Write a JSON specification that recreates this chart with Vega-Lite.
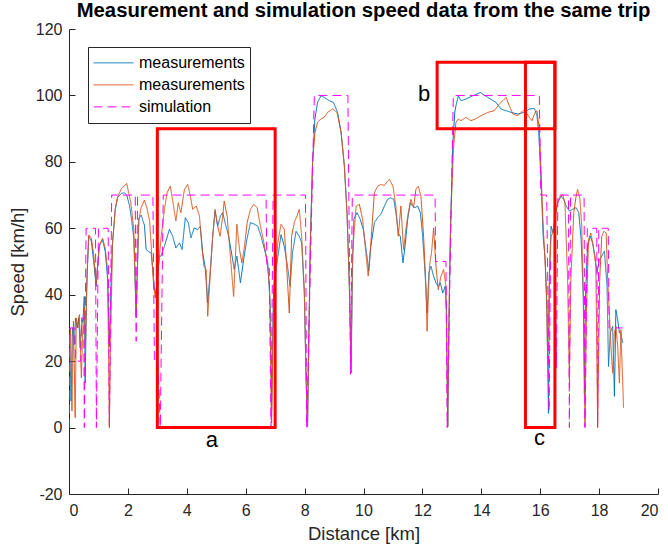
{
  "$schema": "https://vega.github.io/schema/vega-lite/v6.json",
  "width": 589,
  "height": 465,
  "autosize": "none",
  "padding": {"left": 69, "top": 29, "right": 10, "bottom": 59},
  "background": "white",
  "title": {"text": "Measurement and simulation speed data from the same trip", "font": "Liberation Sans", "fontSize": 20.3, "fontWeight": "bold", "color": "black", "offset": 0, "anchor": "middle"},
  "datasets": {
    "lines": [
      {"s":"m1","d":0.02,"v":28},{"s":"m1","d":0.07,"v":8},{"s":"m1","d":0.12,"v":30},{"s":"m1","d":0.18,"v":25},{"s":"m1","d":0.22,"v":33},{"s":"m1","d":0.28,"v":30},{"s":"m1","d":0.33,"v":33},{"s":"m1","d":0.38,"v":24},{"s":"m1","d":0.43,"v":31},{"s":"m1","d":0.48,"v":33},{"s":"m1","d":0.52,"v":39.5},{"s":"m1","d":0.55,"v":13.5},{"s":"m1","d":0.6,"v":42},{"s":"m1","d":0.67,"v":57.6},{"s":"m1","d":0.76,"v":56},{"s":"m1","d":0.84,"v":50},{"s":"m1","d":0.92,"v":42.5},{"s":"m1","d":1.03,"v":54.6},{"s":"m1","d":1.14,"v":56.6},{"s":"m1","d":1.23,"v":53},{"s":"m1","d":1.31,"v":45},{"s":"m1","d":1.37,"v":24.4},{"s":"m1","d":1.43,"v":45},{"s":"m1","d":1.48,"v":55.7},{"s":"m1","d":1.57,"v":65.7},{"s":"m1","d":1.65,"v":69.3},{"s":"m1","d":1.78,"v":70.5},{"s":"m1","d":1.88,"v":70.7},{"s":"m1","d":1.96,"v":70},{"s":"m1","d":2.05,"v":67},{"s":"m1","d":2.12,"v":63},{"s":"m1","d":2.2,"v":57},{"s":"m1","d":2.28,"v":33},{"s":"m1","d":2.33,"v":50},{"s":"m1","d":2.37,"v":63},{"s":"m1","d":2.45,"v":64},{"s":"m1","d":2.52,"v":62},{"s":"m1","d":2.56,"v":61},{"s":"m1","d":2.62,"v":53.6},{"s":"m1","d":2.7,"v":53},{"s":"m1","d":2.79,"v":52.6},{"s":"m1","d":2.85,"v":47},{"s":"m1","d":2.9,"v":42},{"s":"m1","d":2.95,"v":40},{"s":"m1","d":3.0,"v":45},{"s":"m1","d":3.07,"v":51.6},{"s":"m1","d":3.12,"v":51.6},{"s":"m1","d":3.24,"v":54.6},{"s":"m1","d":3.41,"v":59.7},{"s":"m1","d":3.52,"v":57.6},{"s":"m1","d":3.63,"v":54.1},{"s":"m1","d":3.75,"v":55.6},{"s":"m1","d":3.84,"v":53.6},{"s":"m1","d":3.95,"v":63.2},{"s":"m1","d":4.05,"v":61.7},{"s":"m1","d":4.14,"v":57.1},{"s":"m1","d":4.25,"v":60.1},{"s":"m1","d":4.37,"v":59.6},{"s":"m1","d":4.46,"v":60.6},{"s":"m1","d":4.54,"v":52.6},{"s":"m1","d":4.62,"v":48.6},{"s":"m1","d":4.71,"v":37.5},{"s":"m1","d":4.8,"v":47.6},{"s":"m1","d":4.88,"v":57.6},{"s":"m1","d":4.96,"v":65.2},{"s":"m1","d":5.05,"v":60.6},{"s":"m1","d":5.14,"v":63.7},{"s":"m1","d":5.22,"v":64.7},{"s":"m1","d":5.3,"v":61.7},{"s":"m1","d":5.42,"v":57.6},{"s":"m1","d":5.5,"v":53.6},{"s":"m1","d":5.61,"v":47.6},{"s":"m1","d":5.7,"v":51.6},{"s":"m1","d":5.82,"v":43.6},{"s":"m1","d":5.93,"v":50.6},{"s":"m1","d":6.04,"v":56.6},{"s":"m1","d":6.16,"v":61.7},{"s":"m1","d":6.3,"v":61.2},{"s":"m1","d":6.41,"v":60.6},{"s":"m1","d":6.52,"v":57.6},{"s":"m1","d":6.64,"v":53.6},{"s":"m1","d":6.75,"v":49.6},{"s":"m1","d":6.84,"v":35.5},{"s":"m1","d":6.88,"v":5},{"s":"m1","d":6.92,"v":30},{"s":"m1","d":6.95,"v":42.5},{"s":"m1","d":7.03,"v":47.6},{"s":"m1","d":7.2,"v":58.1},{"s":"m1","d":7.31,"v":54.6},{"s":"m1","d":7.42,"v":48.6},{"s":"m1","d":7.51,"v":42.5},{"s":"m1","d":7.59,"v":52.6},{"s":"m1","d":7.71,"v":59.1},{"s":"m1","d":7.82,"v":57.6},{"s":"m1","d":7.9,"v":55.6},{"s":"m1","d":7.99,"v":40.5},{"s":"m1","d":8.05,"v":15},{"s":"m1","d":8.1,"v":0.3},{"s":"m1","d":8.15,"v":30},{"s":"m1","d":8.19,"v":54.6},{"s":"m1","d":8.27,"v":79.8},{"s":"m1","d":8.35,"v":92.9},{"s":"m1","d":8.44,"v":97.9},{"s":"m1","d":8.56,"v":99.9},{"s":"m1","d":8.67,"v":99.4},{"s":"m1","d":8.84,"v":98.4},{"s":"m1","d":8.98,"v":97.9},{"s":"m1","d":9.12,"v":94.9},{"s":"m1","d":9.24,"v":88.8},{"s":"m1","d":9.35,"v":78.8},{"s":"m1","d":9.44,"v":64.7},{"s":"m1","d":9.52,"v":42.5},{"s":"m1","d":9.58,"v":16.4},{"s":"m1","d":9.62,"v":45},{"s":"m1","d":9.67,"v":62.7},{"s":"m1","d":9.78,"v":64.7},{"s":"m1","d":9.89,"v":62.7},{"s":"m1","d":9.99,"v":59.7},{"s":"m1","d":10.12,"v":51.6},{"s":"m1","d":10.18,"v":47.1},{"s":"m1","d":10.25,"v":54.6},{"s":"m1","d":10.37,"v":61.7},{"s":"m1","d":10.48,"v":63.2},{"s":"m1","d":10.59,"v":64.2},{"s":"m1","d":10.71,"v":66.7},{"s":"m1","d":10.82,"v":68.7},{"s":"m1","d":10.91,"v":69.2},{"s":"m1","d":11.03,"v":68.7},{"s":"m1","d":11.1,"v":64.7},{"s":"m1","d":11.18,"v":58.6},{"s":"m1","d":11.25,"v":57.6},{"s":"m1","d":11.34,"v":49.6},{"s":"m1","d":11.41,"v":54.6},{"s":"m1","d":11.5,"v":62.7},{"s":"m1","d":11.59,"v":67.7},{"s":"m1","d":11.67,"v":66.7},{"s":"m1","d":11.75,"v":66.2},{"s":"m1","d":11.84,"v":66.7},{"s":"m1","d":11.93,"v":64.7},{"s":"m1","d":12.0,"v":58.6},{"s":"m1","d":12.09,"v":46.6},{"s":"m1","d":12.16,"v":34.5},{"s":"m1","d":12.22,"v":46.6},{"s":"m1","d":12.29,"v":48.6},{"s":"m1","d":12.38,"v":45.6},{"s":"m1","d":12.46,"v":43.6},{"s":"m1","d":12.54,"v":42.5},{"s":"m1","d":12.61,"v":43.6},{"s":"m1","d":12.69,"v":40.5},{"s":"m1","d":12.77,"v":42.5},{"s":"m1","d":12.82,"v":35},{"s":"m1","d":12.86,"v":0.3},{"s":"m1","d":12.9,"v":30},{"s":"m1","d":12.95,"v":58.6},{"s":"m1","d":13.03,"v":84.8},{"s":"m1","d":13.1,"v":95},{"s":"m1","d":13.14,"v":96.9},{"s":"m1","d":13.22,"v":99.9},{"s":"m1","d":13.31,"v":98.4},{"s":"m1","d":13.48,"v":98.9},{"s":"m1","d":13.71,"v":99.9},{"s":"m1","d":13.97,"v":100.9},{"s":"m1","d":14.22,"v":99.4},{"s":"m1","d":14.5,"v":97.9},{"s":"m1","d":14.67,"v":95.9},{"s":"m1","d":15.01,"v":94.9},{"s":"m1","d":15.24,"v":94.4},{"s":"m1","d":15.46,"v":94.9},{"s":"m1","d":15.63,"v":95.9},{"s":"m1","d":15.8,"v":96.1},{"s":"m1","d":15.89,"v":93.9},{"s":"m1","d":15.95,"v":88.8},{"s":"m1","d":16.0,"v":79.8},{"s":"m1","d":16.05,"v":69.7},{"s":"m1","d":16.1,"v":57.6},{"s":"m1","d":16.17,"v":50.6},{"s":"m1","d":16.23,"v":34.5},{"s":"m1","d":16.28,"v":4.3},{"s":"m1","d":16.32,"v":48.6},{"s":"m1","d":16.37,"v":60.6},{"s":"m1","d":16.44,"v":58.6},{"s":"m1","d":16.5,"v":62.7},{"s":"m1","d":16.59,"v":67.7},{"s":"m1","d":16.71,"v":69.7},{"s":"m1","d":16.8,"v":68.7},{"s":"m1","d":16.88,"v":66.7},{"s":"m1","d":16.99,"v":65.2},{"s":"m1","d":17.1,"v":65.7},{"s":"m1","d":17.22,"v":66.2},{"s":"m1","d":17.31,"v":64.7},{"s":"m1","d":17.39,"v":56.6},{"s":"m1","d":17.46,"v":40},{"s":"m1","d":17.5,"v":10},{"s":"m1","d":17.54,"v":40.5},{"s":"m1","d":17.61,"v":54.6},{"s":"m1","d":17.7,"v":57.6},{"s":"m1","d":17.78,"v":55.6},{"s":"m1","d":17.86,"v":51.6},{"s":"m1","d":17.93,"v":46.6},{"s":"m1","d":18.01,"v":50.6},{"s":"m1","d":18.09,"v":51.6},{"s":"m1","d":18.18,"v":53.1},{"s":"m1","d":18.27,"v":42.5},{"s":"m1","d":18.32,"v":18.4},{"s":"m1","d":18.38,"v":28.5},{"s":"m1","d":18.46,"v":30.5},{"s":"m1","d":18.52,"v":9.4},{"s":"m1","d":18.57,"v":35.5},{"s":"m1","d":18.63,"v":32.5},{"s":"m1","d":18.69,"v":28.5},{"s":"m1","d":18.74,"v":28.5},{"s":"m1","d":18.8,"v":25.5},

      {"s":"m2","d":0.02,"v":25},{"s":"m2","d":0.05,"v":30},{"s":"m2","d":0.1,"v":5},{"s":"m2","d":0.15,"v":32},{"s":"m2","d":0.21,"v":3},{"s":"m2","d":0.25,"v":33},{"s":"m2","d":0.3,"v":30},{"s":"m2","d":0.35,"v":34},{"s":"m2","d":0.42,"v":15},{"s":"m2","d":0.47,"v":30},{"s":"m2","d":0.52,"v":36},{"s":"m2","d":0.56,"v":25},{"s":"m2","d":0.62,"v":48},{"s":"m2","d":0.67,"v":58},{"s":"m2","d":0.76,"v":57},{"s":"m2","d":0.84,"v":52},{"s":"m2","d":0.92,"v":43},{"s":"m2","d":1.03,"v":55},{"s":"m2","d":1.14,"v":57},{"s":"m2","d":1.23,"v":54},{"s":"m2","d":1.31,"v":47.6},{"s":"m2","d":1.37,"v":0.3},{"s":"m2","d":1.42,"v":30},{"s":"m2","d":1.48,"v":55.7},{"s":"m2","d":1.57,"v":65.7},{"s":"m2","d":1.65,"v":69.3},{"s":"m2","d":1.78,"v":72},{"s":"m2","d":1.96,"v":73.5},{"s":"m2","d":2.1,"v":67.7},{"s":"m2","d":2.2,"v":59.7},{"s":"m2","d":2.28,"v":34},{"s":"m2","d":2.33,"v":50},{"s":"m2","d":2.37,"v":62},{"s":"m2","d":2.44,"v":66},{"s":"m2","d":2.56,"v":68.5},{"s":"m2","d":2.65,"v":66},{"s":"m2","d":2.74,"v":62},{"s":"m2","d":2.86,"v":44.6},{"s":"m2","d":2.93,"v":39},{"s":"m2","d":3.0,"v":45},{"s":"m2","d":3.07,"v":51.6},{"s":"m2","d":3.12,"v":56.6},{"s":"m2","d":3.24,"v":65.7},{"s":"m2","d":3.33,"v":70.7},{"s":"m2","d":3.44,"v":72.7},{"s":"m2","d":3.55,"v":66.7},{"s":"m2","d":3.63,"v":62.2},{"s":"m2","d":3.71,"v":67.7},{"s":"m2","d":3.8,"v":64.7},{"s":"m2","d":3.92,"v":71.7},{"s":"m2","d":4.03,"v":73.2},{"s":"m2","d":4.12,"v":69.7},{"s":"m2","d":4.2,"v":65.7},{"s":"m2","d":4.32,"v":66.7},{"s":"m2","d":4.43,"v":63.7},{"s":"m2","d":4.51,"v":54.6},{"s":"m2","d":4.58,"v":48.6},{"s":"m2","d":4.66,"v":47.6},{"s":"m2","d":4.71,"v":33.5},{"s":"m2","d":4.8,"v":46.6},{"s":"m2","d":4.88,"v":57.6},{"s":"m2","d":4.96,"v":65.7},{"s":"m2","d":5.05,"v":60.6},{"s":"m2","d":5.13,"v":57.6},{"s":"m2","d":5.22,"v":63.7},{"s":"m2","d":5.27,"v":68.2},{"s":"m2","d":5.37,"v":63.7},{"s":"m2","d":5.48,"v":51.6},{"s":"m2","d":5.59,"v":39.5},{"s":"m2","d":5.7,"v":61.2},{"s":"m2","d":5.79,"v":53.6},{"s":"m2","d":5.87,"v":49.6},{"s":"m2","d":5.96,"v":54.6},{"s":"m2","d":6.05,"v":61.7},{"s":"m2","d":6.16,"v":65.7},{"s":"m2","d":6.27,"v":67.2},{"s":"m2","d":6.39,"v":66.2},{"s":"m2","d":6.5,"v":60.6},{"s":"m2","d":6.62,"v":55.6},{"s":"m2","d":6.73,"v":49.6},{"s":"m2","d":6.81,"v":42.5},{"s":"m2","d":6.88,"v":1.4},{"s":"m2","d":6.95,"v":39.5},{"s":"m2","d":7.09,"v":55.6},{"s":"m2","d":7.2,"v":61.2},{"s":"m2","d":7.31,"v":59.7},{"s":"m2","d":7.39,"v":48.6},{"s":"m2","d":7.48,"v":34.5},{"s":"m2","d":7.56,"v":57.6},{"s":"m2","d":7.65,"v":61.7},{"s":"m2","d":7.74,"v":63.7},{"s":"m2","d":7.82,"v":65.7},{"s":"m2","d":7.9,"v":57.6},{"s":"m2","d":7.99,"v":41.5},{"s":"m2","d":8.05,"v":15},{"s":"m2","d":8.1,"v":0.3},{"s":"m2","d":8.15,"v":30},{"s":"m2","d":8.19,"v":52.6},{"s":"m2","d":8.27,"v":79.8},{"s":"m2","d":8.35,"v":88.8},{"s":"m2","d":8.44,"v":91.9},{"s":"m2","d":8.55,"v":92.9},{"s":"m2","d":8.67,"v":93.4},{"s":"m2","d":8.78,"v":94.9},{"s":"m2","d":8.95,"v":95.9},{"s":"m2","d":9.1,"v":94.9},{"s":"m2","d":9.24,"v":88.8},{"s":"m2","d":9.35,"v":78.8},{"s":"m2","d":9.44,"v":64.7},{"s":"m2","d":9.52,"v":42.5},{"s":"m2","d":9.58,"v":19.4},{"s":"m2","d":9.63,"v":52.6},{"s":"m2","d":9.75,"v":66.7},{"s":"m2","d":9.86,"v":67.2},{"s":"m2","d":9.97,"v":62.7},{"s":"m2","d":10.08,"v":52.6},{"s":"m2","d":10.16,"v":45.6},{"s":"m2","d":10.25,"v":55.6},{"s":"m2","d":10.37,"v":70.7},{"s":"m2","d":10.48,"v":72.7},{"s":"m2","d":10.59,"v":73.2},{"s":"m2","d":10.71,"v":72.9},{"s":"m2","d":10.82,"v":74.2},{"s":"m2","d":10.88,"v":74.7},{"s":"m2","d":11.0,"v":72.7},{"s":"m2","d":11.1,"v":66.7},{"s":"m2","d":11.18,"v":57.6},{"s":"m2","d":11.27,"v":66.7},{"s":"m2","d":11.36,"v":53.6},{"s":"m2","d":11.44,"v":59.7},{"s":"m2","d":11.52,"v":64.7},{"s":"m2","d":11.61,"v":68.7},{"s":"m2","d":11.7,"v":66.2},{"s":"m2","d":11.78,"v":71.7},{"s":"m2","d":11.86,"v":72.7},{"s":"m2","d":11.95,"v":69.7},{"s":"m2","d":12.04,"v":57.6},{"s":"m2","d":12.12,"v":42.5},{"s":"m2","d":12.16,"v":29},{"s":"m2","d":12.24,"v":48.6},{"s":"m2","d":12.31,"v":52.6},{"s":"m2","d":12.38,"v":60.1},{"s":"m2","d":12.46,"v":48.6},{"s":"m2","d":12.54,"v":41.5},{"s":"m2","d":12.63,"v":45.6},{"s":"m2","d":12.72,"v":47.6},{"s":"m2","d":12.8,"v":42.5},{"s":"m2","d":12.86,"v":0.3},{"s":"m2","d":12.92,"v":44.6},{"s":"m2","d":12.97,"v":64.7},{"s":"m2","d":13.06,"v":84.8},{"s":"m2","d":13.14,"v":91.9},{"s":"m2","d":13.22,"v":92.9},{"s":"m2","d":13.31,"v":92.4},{"s":"m2","d":13.48,"v":93.4},{"s":"m2","d":13.65,"v":92.4},{"s":"m2","d":13.82,"v":93},{"s":"m2","d":13.99,"v":93.9},{"s":"m2","d":14.22,"v":94.9},{"s":"m2","d":14.44,"v":95.4},{"s":"m2","d":14.61,"v":97.4},{"s":"m2","d":14.84,"v":99.4},{"s":"m2","d":14.95,"v":96.9},{"s":"m2","d":15.07,"v":94.4},{"s":"m2","d":15.24,"v":93.9},{"s":"m2","d":15.41,"v":95.4},{"s":"m2","d":15.52,"v":94.9},{"s":"m2","d":15.63,"v":93.4},{"s":"m2","d":15.72,"v":92.4},{"s":"m2","d":15.83,"v":94.9},{"s":"m2","d":15.89,"v":95.4},{"s":"m2","d":15.97,"v":89.8},{"s":"m2","d":16.03,"v":76.7},{"s":"m2","d":16.09,"v":62.7},{"s":"m2","d":16.15,"v":52.6},{"s":"m2","d":16.22,"v":39.5},{"s":"m2","d":16.25,"v":21.4},{"s":"m2","d":16.31,"v":44.6},{"s":"m2","d":16.37,"v":57.6},{"s":"m2","d":16.43,"v":58.6},{"s":"m2","d":16.5,"v":63.7},{"s":"m2","d":16.59,"v":67.7},{"s":"m2","d":16.68,"v":69.7},{"s":"m2","d":16.76,"v":70.2},{"s":"m2","d":16.84,"v":67.7},{"s":"m2","d":16.93,"v":44.6},{"s":"m2","d":16.99,"v":14.4},{"s":"m2","d":17.04,"v":44.6},{"s":"m2","d":17.14,"v":64.7},{"s":"m2","d":17.22,"v":69.7},{"s":"m2","d":17.27,"v":71.7},{"s":"m2","d":17.35,"v":68.7},{"s":"m2","d":17.41,"v":60.6},{"s":"m2","d":17.48,"v":34.5},{"s":"m2","d":17.52,"v":0.3},{"s":"m2","d":17.57,"v":34.5},{"s":"m2","d":17.64,"v":56.6},{"s":"m2","d":17.72,"v":58.6},{"s":"m2","d":17.8,"v":54.6},{"s":"m2","d":17.89,"v":48.6},{"s":"m2","d":17.95,"v":0.3},{"s":"m2","d":18.02,"v":44.6},{"s":"m2","d":18.09,"v":57.6},{"s":"m2","d":18.16,"v":59.1},{"s":"m2","d":18.24,"v":58.6},{"s":"m2","d":18.29,"v":44.6},{"s":"m2","d":18.35,"v":34.5},{"s":"m2","d":18.4,"v":24.5},{"s":"m2","d":18.46,"v":16.4},{"s":"m2","d":18.52,"v":28.5},{"s":"m2","d":18.57,"v":30.5},{"s":"m2","d":18.63,"v":24.5},{"s":"m2","d":18.69,"v":13.4},{"s":"m2","d":18.74,"v":29.5},{"s":"m2","d":18.83,"v":6},

      {"s":"sim","d":0.0,"v":0},{"s":"sim","d":0.03,"v":30},{"s":"sim","d":0.2,"v":30},{"s":"sim","d":0.22,"v":20},{"s":"sim","d":0.4,"v":20},{"s":"sim","d":0.43,"v":33},{"s":"sim","d":0.5,"v":33},{"s":"sim","d":0.52,"v":0},{"s":"sim","d":0.58,"v":60},{"s":"sim","d":0.9,"v":60},{"s":"sim","d":0.93,"v":0},{"s":"sim","d":1.0,"v":60},{"s":"sim","d":1.33,"v":60},{"s":"sim","d":1.37,"v":0},{"s":"sim","d":1.45,"v":70},{"s":"sim","d":2.25,"v":70},{"s":"sim","d":2.28,"v":26},{"s":"sim","d":2.33,"v":70},{"s":"sim","d":2.85,"v":70},{"s":"sim","d":2.9,"v":20},{"s":"sim","d":3.02,"v":20},{"s":"sim","d":3.1,"v":0},{"s":"sim","d":3.2,"v":70},{"s":"sim","d":6.69,"v":70},{"s":"sim","d":6.72,"v":48},{"s":"sim","d":6.8,"v":48},{"s":"sim","d":6.86,"v":0},{"s":"sim","d":6.93,"v":70},{"s":"sim","d":8.03,"v":70},{"s":"sim","d":8.07,"v":0},{"s":"sim","d":8.33,"v":100},{"s":"sim","d":9.47,"v":100},{"s":"sim","d":9.56,"v":16},{"s":"sim","d":9.62,"v":70},{"s":"sim","d":12.43,"v":70},{"s":"sim","d":12.45,"v":50},{"s":"sim","d":12.8,"v":50},{"s":"sim","d":12.84,"v":0},{"s":"sim","d":13.05,"v":100},{"s":"sim","d":15.97,"v":100},{"s":"sim","d":16.02,"v":70},{"s":"sim","d":16.22,"v":70},{"s":"sim","d":16.25,"v":50},{"s":"sim","d":16.3,"v":5},{"s":"sim","d":16.35,"v":50},{"s":"sim","d":16.5,"v":50},{"s":"sim","d":16.55,"v":18},{"s":"sim","d":16.6,"v":70},{"s":"sim","d":16.96,"v":70},{"s":"sim","d":16.99,"v":0},{"s":"sim","d":17.03,"v":70},{"s":"sim","d":17.49,"v":70},{"s":"sim","d":17.52,"v":0},{"s":"sim","d":17.6,"v":60},{"s":"sim","d":17.92,"v":60},{"s":"sim","d":17.95,"v":0},{"s":"sim","d":17.99,"v":60},{"s":"sim","d":18.31,"v":60},{"s":"sim","d":18.34,"v":30},{"s":"sim","d":18.8,"v":30}
    ],
    "boxes": [
      {"name":"a","x1":3,"x2":7,"y1":0,"y2":90},
      {"name":"b","x1":12.5,"x2":16.5,"y1":90,"y2":110},
      {"name":"c","x1":15.5,"x2":16.5,"y1":0,"y2":110}
    ],
    "labels": [
      {"t":"a","d":4.85,"v":-3.7},
      {"t":"b","d":12.06,"v":100.4},
      {"t":"c","d":15.98,"v":-3.1}
    ]
  },
  "layer": [
    {
      "data": {"name": "lines"},
      "mark": {"type": "line", "strokeWidth": 1, "clip": true},
      "encoding": {
        "x": {"field": "d", "type": "quantitative", "scale": {"domain": [0, 20], "nice": false}, "axis": {"title": "Distance [km]", "values": [0,2,4,6,8,10,12,14,16,18,20]}},
        "y": {"field": "v", "type": "quantitative", "scale": {"domain": [-20, 120], "nice": false}, "axis": {"title": "Speed [km/h]", "values": [-20,0,20,40,60,80,100,120], "labelExpr": "'' + datum.value"}},
        "color": {"field": "s", "type": "nominal", "scale": {"domain": ["m1","m2","sim"], "range": ["#0072BD","#D95319","#FF00FF"]},
          "legend": {"title": null, "labelExpr": "datum.value == 'sim' ? 'simulation' : 'measurements'"}},
        "strokeDash": {"field": "s", "type": "nominal", "scale": {"domain": ["m1","m2","sim"], "range": [[1,0],[1,0],[9,5]]},
          "legend": {"title": null, "labelExpr": "datum.value == 'sim' ? 'simulation' : 'measurements'"}}
      }
    },
    {
      "data": {"name": "boxes"},
      "mark": {"type": "rect", "filled": false, "stroke": "#FF0000", "strokeWidth": 3},
      "encoding": {
        "x": {"field": "x1", "type": "quantitative"},
        "x2": {"field": "x2"},
        "y": {"field": "y1", "type": "quantitative"},
        "y2": {"field": "y2"}
      }
    },
    {
      "data": {"name": "labels"},
      "mark": {"type": "text", "font": "Liberation Sans", "fontSize": 22, "color": "black", "align": "center", "baseline": "middle"},
      "encoding": {
        "x": {"field": "d", "type": "quantitative"},
        "y": {"field": "v", "type": "quantitative"},
        "text": {"field": "t"}
      }
    }
  ],
  "config": {
    "view": {"stroke": null},
    "axis": {
      "grid": false,
      "domainColor": "#262626",
      "domainWidth": 1,
      "tickColor": "#262626",
      "tickSize": -6,
      "labelFont": "Liberation Sans",
      "labelFontSize": 16,
      "labelColor": "#262626",
      "titleFont": "Liberation Sans",
      "titleFontSize": 18.5,
      "titleFontWeight": "normal",
      "titleColor": "#262626"
    },
    "axisX": {"labelPadding": 14, "titlePadding": 6},
    "axisY": {"labelPadding": 13, "titlePadding": 8},
    "legend": {
      "orient": "none",
      "legendX": 19,
      "legendY": 18,
      "strokeColor": "#262626",
      "fillColor": "white",
      "padding": 5,
      "symbolType": "stroke",
      "symbolSize": 1600,
      "symbolStrokeWidth": 1,
      "labelFont": "Liberation Sans",
      "labelFontSize": 16,
      "labelColor": "black",
      "labelOffset": 5,
      "clipHeight": 21.7,
      "rowPadding": 0
    }
  }
}
